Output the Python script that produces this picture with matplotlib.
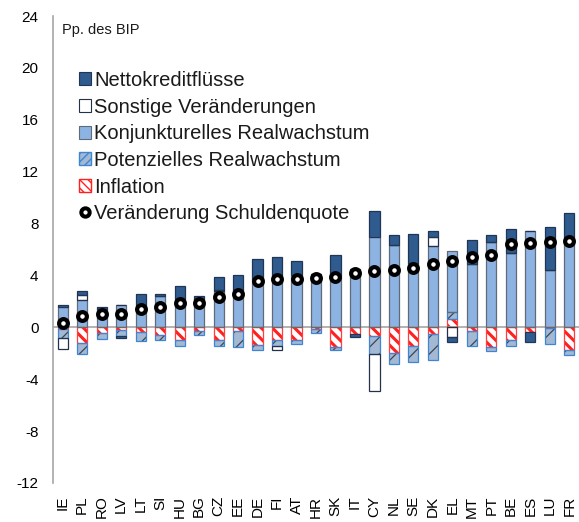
import numpy as np
import matplotlib
matplotlib.use('Agg')
import matplotlib.pyplot as plt
from matplotlib.patches import Patch
from matplotlib.lines import Line2D

plt.rcParams['font.family'] = ['Liberation Sans', 'DejaVu Sans']
plt.rcParams['text.color'] = '#1a1a1a'
plt.rcParams['axes.unicode_minus'] = False

countries = ['IE', 'PL', 'RO', 'LV', 'LT', 'SI', 'HU', 'BG', 'CZ', 'EE', 'DE', 'FI', 'AT', 'HR',
             'SK', 'IT', 'CY', 'NL', 'SE', 'DK', 'EL', 'MT', 'PT', 'BE', 'ES', 'LU', 'FR']

# Pp. des BIP
netto = [0.15, 0.3, 0.2, -0.2, 0.8, 0.15, 1.0, 0.5, 0.95, 1.15, 1.6, 1.45, 1.1, 0.0,
         1.6, -0.25, 2.0, 0.75, 2.25, 0.5, -0.4, 1.9, 0.55, 1.9, -0.8, 3.3, 2.2]
sonstige = [-0.8, 0.4, 0, 0, 0, 0, 0, 0, 0.1, 0, 0, -0.33, 0, 0,
            0, 0, -2.85, 0, 0, 0.65, -0.75, 0, 0, 0, 0, 0, 0]
konjunktur = [1.6, 2.1, 1.4, 1.7, 1.75, 2.4, 2.2, 1.95, 2.8, 2.9, 3.7, 3.95, 4.0, 4.1,
              4.0, 4.5, 7.0, 6.35, 4.95, 6.3, 4.75, 4.85, 6.6, 5.7, 7.45, 4.4, 6.6]
potenziell = [-0.7, -0.85, -0.5, -0.45, -0.7, -0.35, -0.45, -0.35, -0.45, -1.2, -0.4, -0.45, -0.3, -0.3,
              -0.25, 0, -1.35, -0.9, -1.25, -2.0, 0.5, -1.2, -0.35, -0.45, 0, -1.25, -0.4]
inflation = [-0.15, -1.2, -0.4, -0.2, -0.35, -0.6, -1.0, -0.25, -1.0, -0.3, -1.35, -1.0, -1.0, -0.15,
             -1.5, -0.5, -0.7, -1.95, -1.45, -0.55, 0.67, -0.25, -1.5, -1.0, -0.35, -0.05, -1.75]
schuldenquote = [0.35, 0.87, 1.0, 1.0, 1.4, 1.55, 1.85, 1.9, 2.3, 2.6, 3.55, 3.7, 3.75, 3.8,
                 3.85, 4.2, 4.35, 4.4, 4.6, 4.9, 5.1, 5.4, 5.55, 6.4, 6.5, 6.55, 6.65]

fig = plt.figure(figsize=(5.79, 5.22), dpi=100)
ax = fig.add_axes([53 / 579, 1 - 483 / 522, 526 / 579, 467 / 522])

x = np.arange(len(countries))
w = 0.52
pos_base = np.zeros(len(x))
neg_base = np.zeros(len(x))

# stacking order from zero outwards (Excel draws the first series next to the axis)
series = [
    ('Inflation', inflation, dict(facecolor='white', hatch='\\\\\\', hatchcol='#ff2020', edge='#ff4040', hlw=2.2)),
    ('Potenzielles Realwachstum', potenziell, dict(facecolor='#a3b8d2', hatch='//', hatchcol='#3b4654', edge='#3d86d6', hlw=0.9)),
    ('Konjunkturelles Realwachstum', konjunktur, dict(facecolor='#8db3e2', hatch=None, hatchcol=None, edge='#5f6b7a', hlw=1)),
    ('Sonstige Veränderungen', sonstige, dict(facecolor='white', hatch=None, hatchcol=None, edge='#23324a', hlw=1)),
    ('Nettokreditflüsse', netto, dict(facecolor='#2f5b8f', hatch=None, hatchcol=None, edge='#1f3655', hlw=1)),
]

for name, vals, st in series:
    v = np.array(vals, dtype=float)
    bottoms = np.where(v >= 0, pos_base, neg_base)
    if st['hatch']:
        with plt.rc_context({'hatch.linewidth': st['hlw']}):
            bars = ax.bar(x, v, w, bottom=bottoms, facecolor=st['facecolor'], hatch=st['hatch'],
                          edgecolor=st['hatchcol'], linewidth=0, zorder=2)
            for b in bars:
                if hasattr(b, 'set_hatch_linewidth'):
                    b.set_hatch_linewidth(st['hlw'])
    else:
        ax.bar(x, v, w, bottom=bottoms, facecolor=st['facecolor'], linewidth=0, zorder=2)
    ax.bar(x, v, w, bottom=bottoms, facecolor='none', edgecolor=st['edge'], linewidth=0.9, zorder=3)
    pos_base += np.where(v > 0, v, 0)
    neg_base += np.where(v < 0, v, 0)

ax.axhline(0, color='#a6a6a6', linewidth=1.2, zorder=2.5)
ax.plot(x, schuldenquote, linestyle='none', marker='o', markersize=6.3, markerfacecolor='white',
        markeredgecolor='black', markeredgewidth=3, zorder=5)

ax.set_xlim(-0.5, len(x) - 0.5)
ax.set_ylim(-12, 24)
ax.set_yticks(np.arange(-12, 25, 4))
ax.set_xticks(x)
ax.set_xticklabels(countries, rotation=90, fontsize=11)
ax.tick_params(axis='y', length=0, pad=10.5, labelsize=11)
ax.tick_params(axis='x', length=0, pad=9)
for s in ['top', 'right', 'bottom']:
    ax.spines[s].set_visible(False)
ax.spines['left'].set_color('#a6a6a6')
ax.spines['left'].set_linewidth(1.2)

fig.text(62 / 579, 1 - 30 / 522, 'Pp. des BIP', fontsize=10.5, va='center', ha='left')

# legend
with plt.rc_context({'hatch.linewidth': 2.0}):
    h_infl = Patch(facecolor='white', edgecolor='#ff2020', hatch='\\\\\\\\', linewidth=1)
with plt.rc_context({'hatch.linewidth': 0.9}):
    h_pot = Patch(facecolor='#a3b8d2', edgecolor='#3d86d6', hatch='////', linewidth=1)
handles = [
    Patch(facecolor='#2f5b8f', edgecolor='#1f3655', linewidth=0.8),
    Patch(facecolor='white', edgecolor='#23324a', linewidth=0.8),
    Patch(facecolor='#8db3e2', edgecolor='#5f6b7a', linewidth=0.8),
    h_pot,
    h_infl,
    Line2D([], [], linestyle='none', marker='o', markersize=6, markerfacecolor='white',
           markeredgecolor='black', markeredgewidth=2.9),
]
labels = ['Nettokreditflüsse', 'Sonstige Veränderungen', 'Konjunkturelles Realwachstum',
          'Potenzielles Realwachstum', 'Inflation', 'Veränderung Schuldenquote']
leg = ax.legend(handles, labels, loc='upper left', bbox_to_anchor=(79 / 579, 1 - 71 / 522),
                bbox_transform=fig.transFigure, frameon=False, fontsize=14.5,
                handlelength=0.62, handleheight=0.62, handletextpad=0.12, labelspacing=0.38,
                borderpad=0, borderaxespad=0)

fig.savefig('out.png', dpi=100)
